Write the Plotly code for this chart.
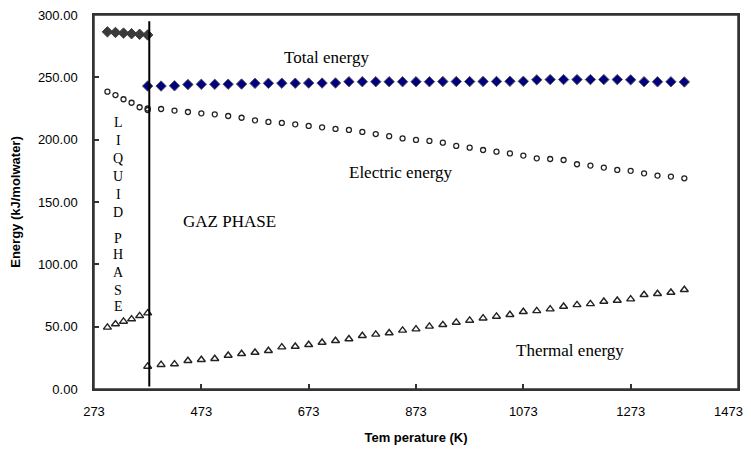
import plotly.graph_objects as go

# ---- data ----
t_liquid = [298, 313, 328, 343, 358, 373]
total_liquid = [286.5, 286.0, 285.5, 285.0, 284.5, 284.0]
electric_liquid = [238.5, 235.8, 232.4, 229.6, 226.0, 223.8]
thermal_liquid = [49.4, 52.1, 54.2, 56.1, 58.7, 60.9]

t_gas = [373, 398, 423, 448, 473, 498, 523, 548, 573, 598, 623, 648, 673, 698,
         723, 748, 773, 798, 823, 848, 873, 898, 923, 948, 973, 998, 1023, 1048,
         1073, 1098, 1123, 1148, 1173, 1198, 1223, 1248, 1273, 1298, 1323, 1348, 1373]
total_gas = [243.0, 243.0, 243.2, 244.2, 244.4, 244.4, 244.5, 244.6, 245.2, 245.2,
             245.3, 245.3, 245.4, 245.4, 245.5, 246.5, 246.5, 246.5, 246.5, 246.5,
             246.5, 246.5, 246.6, 246.6, 246.6, 246.7, 246.7, 246.8, 246.8, 248.0,
             248.2, 248.2, 248.2, 248.2, 248.2, 248.2, 248.0, 246.5, 246.4, 246.4, 246.3]
electric_gas = [225.0, 224.6, 223.3, 222.2, 221.1, 220.3, 219.0, 217.6, 215.5, 214.2,
                213.4, 212.3, 211.0, 209.9, 208.6, 207.8, 206.2, 204.5, 202.8, 201.0,
                199.8, 199.0, 197.6, 195.0, 193.6, 191.7, 190.4, 189.0, 187.2, 185.0,
                184.5, 183.7, 180.3, 179.2, 177.6, 175.7, 175.0, 173.0, 171.2, 170.4, 169.0]
thermal_gas = [18.1, 19.5, 20.0, 22.7, 23.5, 24.3, 26.9, 28.3, 29.3, 30.7,
               33.6, 34.1, 35.5, 37.3, 38.7, 40.1, 42.7, 43.8, 44.9, 47.0,
               48.0, 50.2, 51.5, 53.4, 55.0, 56.8, 58.2, 59.6, 62.0, 62.7,
               64.1, 66.2, 67.5, 68.3, 70.2, 71.0, 72.1, 75.6, 76.4, 77.4, 79.6]

x_ticks = [273, 473, 673, 873, 1073, 1273, 1473]
x_tick_labels = ["273", "473", "673", "873", "1073", "1273", ""]
last_x_label = "1473"   # drawn right-aligned so it stays inside the window
y_ticks = [0, 50, 100, 150, 200, 250, 300]
phase_boundary = 376

fig = go.Figure()

def add(x, y, symbol, size, fill, edge, lw):
    fig.add_trace(go.Scatter(x=x, y=y, mode="markers", showlegend=False, cliponaxis=False,
                             marker=dict(symbol=symbol, size=size, color=fill,
                                         line=dict(color=edge, width=lw))))

add(t_liquid, total_liquid, "diamond", 8, "#3a3a3a", "#3a3a3a", 1)
add(t_gas, total_gas, "diamond", 8, "#000080", "#555555", 1)
add(t_liquid, electric_liquid, "circle-open", 5, "#222222", "#222222", 1.3)
add(t_gas, electric_gas, "circle-open", 5, "#222222", "#222222", 1.3)
add(t_liquid, thermal_liquid, "triangle-up-open", 7, "#222222", "#222222", 1.4)
add(t_gas, thermal_gas, "triangle-up-open", 7, "#222222", "#222222", 1.4)

# plot frame (drawn in data coordinates of the axis range)
fig.add_shape(type="rect", xref="x", yref="y", x0=273, x1=1473, y0=0, y1=300,
              line=dict(color="#333333", width=1.5), layer="above")
fig.add_shape(type="line", x0=phase_boundary, x1=phase_boundary, y0=2, y1=295,
              xref="x", yref="y", line=dict(color="black", width=2))

serif = "Liberation Serif, Times New Roman, serif"
for txt, x, y in [("Total energy", 707, 266), ("Electric energy", 845, 174),
                  ("Thermal energy", 1160, 31), ("GAZ PHASE", 526, 134)]:
    fig.add_annotation(x=x, y=y, text=txt, showarrow=False,
                       font=dict(family=serif, size=17, color="black"))

letters = ["L", "I", "Q", "U", "I", "D", "P", "H", "A", "S", "E"]
letter_y = [214.1, 199.7, 185.2, 170.8, 156.4, 141.9, 121.1, 107.5, 93.8, 79.4, 65.8]
for ch, y in zip(letters, letter_y):
    fig.add_annotation(x=318, y=y, text=ch, showarrow=False,
                       font=dict(family=serif, size=14, color="black"))

fig.add_annotation(x=x_ticks[-1], y=0, xref="x", yref="paper", text=last_x_label,
                   showarrow=False, xanchor="right", yanchor="middle", xshift=7, yshift=-22,
                   font=dict(family="Liberation Sans, Arial, sans-serif", size=13, color="black"))

fig.update_layout(
    width=743, height=445,
    margin=dict(l=86, r=13, t=7, b=64, autoexpand=False),
    paper_bgcolor="white", plot_bgcolor="white",
    font=dict(family="Liberation Sans, Arial, sans-serif", size=13, color="black"),
    xaxis=dict(range=[273, 1473], tickvals=x_ticks, ticktext=x_tick_labels,
               showgrid=False, zeroline=False, showline=True, linecolor="#333333",
               linewidth=1.5, mirror=True, ticks="inside", ticklen=5, tickcolor="#333333",
               tickwidth=1.5,
               ticklabelstandoff=10, automargin=False, ticklabeloverflow="allow",
               title=dict(text="<b>Tem perature (K)</b>", standoff=15,
                          font=dict(size=13))),
    yaxis=dict(range=[0, 300], tickvals=y_ticks, ticktext=[f"{v:.2f}" for v in y_ticks],
               showgrid=False, zeroline=False, showline=True, linecolor="#333333",
               linewidth=1.5, mirror=True, ticks="inside", ticklen=5, tickcolor="#333333",
               tickwidth=1.5,
               ticklabelstandoff=12, automargin=False, ticklabeloverflow="allow",
               title=dict(text="<b>Energy (kJ/molwater)</b>", standoff=14,
                          font=dict(size=13))),
)

fig.write_html("out.html")
